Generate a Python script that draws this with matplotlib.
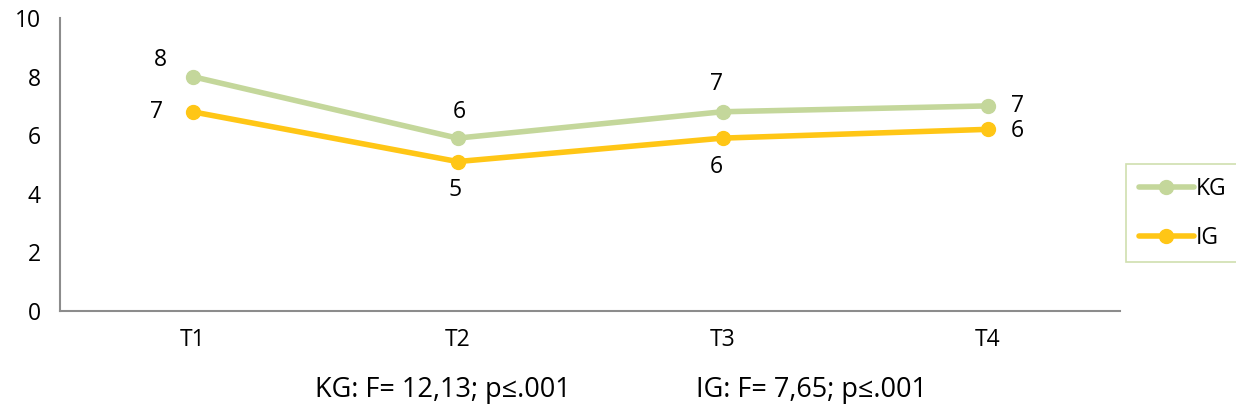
import matplotlib
matplotlib.use("Agg")
import matplotlib.pyplot as plt

plt.rcParams['font.family'] = ['Open Sans', 'DejaVu Sans']

categories = ["T1", "T2", "T3", "T4"]
kg = [8.0, 5.9, 6.8, 7.0]
ig = [6.8, 5.1, 5.9, 6.2]
y_ticks = [0, 2, 4, 6, 8, 10]
note_kg = "KG: F= 12,13; p≤.001"
note_ig = "IG: F= 7,65; p≤.001"

c_kg = "#C4D79B"
c_ig = "#FFC616"

W, H = 1236, 412
FS = 16.5
fig = plt.figure(figsize=(W/100, H/100), dpi=100)
ax = fig.add_axes([60/W, (H-311)/H, (1120-60)/W, (311-18)/H])

x = list(range(len(categories)))
l1, = ax.plot(x, kg, color=c_kg, lw=4, marker='o', ms=10, label="KG", solid_capstyle='round')
l2, = ax.plot(x, ig, color=c_ig, lw=4, marker='o', ms=10, label="IG", solid_capstyle='round')

# data labels
offs_kg = [(-32, 17), (2, 26), (-6, 28), (30, 0)]
offs_ig = [(-36, 0), (-2, -28), (-6, -29), (30, -2)]
for i in x:
    ax.annotate(f"{kg[i]:.0f}", (i, kg[i]), xytext=offs_kg[i], textcoords='offset pixels',
                ha='center', va='center', fontsize=FS)
    ax.annotate(f"{ig[i]:.0f}", (i, ig[i]), xytext=offs_ig[i], textcoords='offset pixels',
                ha='center', va='center', fontsize=FS)

ax.set_xlim(-0.5, len(categories) - 0.5)
ax.set_ylim(0, 10)
ax.set_yticks(y_ticks)
ax.set_xticks(x)
ax.set_xticklabels(categories)
ax.tick_params(length=0, labelsize=FS, pad=12)
ax.tick_params(axis='y', pad=14)
for s in ['top', 'right']:
    ax.spines[s].set_visible(False)
for s in ['left', 'bottom']:
    ax.spines[s].set_color('#8C8C8C')
    ax.spines[s].set_linewidth(1.5)

leg = fig.legend(handles=[l1, l2], loc='upper left',
                 bbox_to_anchor=(1126/W, 1 - 164/H), fontsize=FS,
                 frameon=True, fancybox=False, handlelength=2.4,
                 labelspacing=1.1, borderpad=0.55, handletextpad=0.1,
                 borderaxespad=0)
leg.get_frame().set_edgecolor(c_kg)
leg.get_frame().set_linewidth(1.2)

fig.text(443/W, 1 - 390/H, note_kg, ha='center', va='center', fontsize=19.5)
fig.text(812/W, 1 - 390/H, note_ig, ha='center', va='center', fontsize=19.5)

fig.savefig("out.png", dpi=100)
